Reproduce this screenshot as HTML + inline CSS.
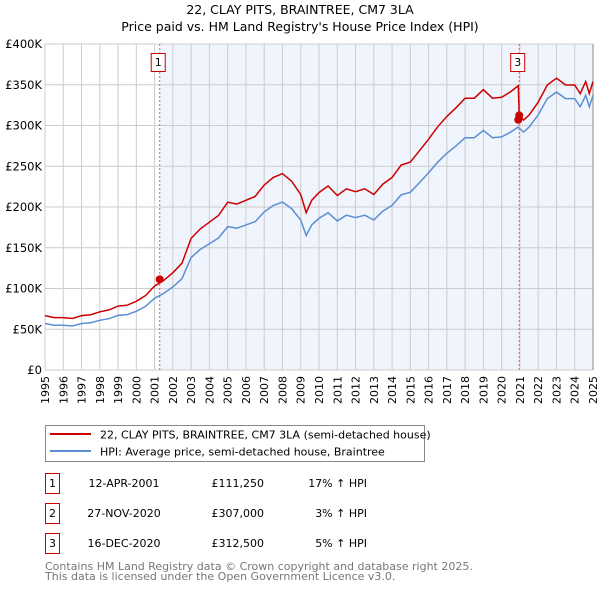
<!DOCTYPE html>
<html><head><meta charset="utf-8"><style>
body{margin:0;background:#fff;}
svg text{font-family:"DejaVu Sans","Liberation Sans",sans-serif;}
</style></head><body>
<svg id="chart" width="600" height="590" viewBox="0 0 600 590" xmlns="http://www.w3.org/2000/svg">
<text x="300" y="14" font-size="12.5" text-anchor="middle">22, CLAY PITS, BRAINTREE, CM7 3LA</text>
<text x="300" y="31" font-size="12.5" text-anchor="middle">Price paid vs. HM Land Registry's House Price Index (HPI)</text>
<g id="plot"></g>
<g>
<rect x="45.5" y="425.5" width="379" height="36" fill="#fff" stroke="#888"/>
<line x1="50" y1="434" x2="91" y2="434" stroke="#cc0000" stroke-width="2"/>
<text x="100" y="438.5" font-size="11">22, CLAY PITS, BRAINTREE, CM7 3LA (semi-detached house)</text>
<line x1="50" y1="451" x2="91" y2="451" stroke="#5b8fd4" stroke-width="2"/>
<text x="100" y="455.5" font-size="11">HPI: Average price, semi-detached house, Braintree</text>
</g>
<g id="table" font-size="11"></g>
<text x="45" y="570" font-size="11" fill="#777">Contains HM Land Registry data © Crown copyright and database right 2025.</text>
<text x="45" y="580" font-size="11" fill="#777">This data is licensed under the Open Government Licence v3.0.</text>
</svg>
<script>
const hpiYears=[1995,1995.5,1996,1996.5,1997,1997.5,1998,1998.5,1999,1999.5,2000,2000.5,2001,2001.5,2002,2002.5,2003,2003.5,2004,2004.5,2005,2005.5,2006,2006.5,2007,2007.5,2008,2008.5,2009,2009.3,2009.6,2010,2010.5,2011,2011.5,2012,2012.5,2013,2013.5,2014,2014.5,2015,2015.5,2016,2016.5,2017,2017.5,2018,2018.5,2019,2019.5,2020,2020.5,2020.9,2021.2,2021.5,2022,2022.5,2023,2023.5,2024,2024.3,2024.6,2024.8,2025];
const hpiValues=[57,55,55,54,57,58,61,63,67,68,72,78,88,94,102,112,138,148,155,162,176,174,178,182,194,202,206,198,184,165,178,186,193,183,190,187,190,184,195,202,215,218,230,242,255,266,275,285,285,294,285,286,292,298,292,298,313,333,341,333,333,323,337,323,337];
const saleLabels=["1","2","3"];
const saleYears=[2001.28,2020.91,2020.96];
const salePrices=[111.25,307,312.5];
const saleDates=["12-APR-2001","27-NOV-2020","16-DEC-2020"];
const salePriceText=["£111,250","£307,000","£312,500"];
const saleDiffText=["17% ↑ HPI","3% ↑ HPI","5% ↑ HPI"];
const ratioBefore=1.17, ratioAfter=1.05;
const yTicks=[0,50,100,150,200,250,300,350,400];
const yTickLabels=["£0","£50K","£100K","£150K","£200K","£250K","£300K","£350K","£400K"];
const xTicks=[1995,1996,1997,1998,1999,2000,2001,2002,2003,2004,2005,2006,2007,2008,2009,2010,2011,2012,2013,2014,2015,2016,2017,2018,2019,2020,2021,2022,2023,2024,2025];

const L=45,R=593,T=44,B=370,x0=1995,x1=2025;
const X=y=>L+(y-x0)/(x1-x0)*(R-L);
const Y=v=>B-v/400*(B-T);
const NS="http://www.w3.org/2000/svg";
const plot=document.getElementById('plot');
function mk(tag,attrs,parent){const e=document.createElementNS(NS,tag);for(const k in attrs)e.setAttribute(k,attrs[k]);(parent||plot).appendChild(e);return e;}

let r=mk('rect',{x:L,y:T,width:R-L,height:B-T,fill:'#fff'});


r=mk('rect',{x:X(saleYears[0]),y:T,width:R-X(saleYears[0]),height:B-T,fill:'#f0f4fc'});


xTicks.forEach(t=>{
  let g=mk('line',{x1:X(t),x2:X(t),y1:T,y2:B,stroke:'#cccccc','stroke-width':1});
  
  
  let tx=mk('text',{x:0,y:0,'font-size':11,'text-anchor':'end',transform:`translate(${X(t)+4},${B+6}) rotate(-90)`});
  tx.textContent=t;
  
  
});
yTicks.forEach((t,i)=>{
  let g=mk('line',{x1:L,x2:R,y1:Y(t),y2:Y(t),stroke:'#cccccc','stroke-width':1});
  
  
  let tx=mk('text',{x:L-3,y:Y(t)+4,'font-size':11.5,'text-anchor':'end'});
  tx.textContent=yTickLabels[i];
  
  
});
r=mk('line',{x1:R,x2:R,y1:T,y2:B,stroke:'#888'});



[0,2].forEach(i=>{
  let l=mk('line',{x1:X(saleYears[i]),x2:X(saleYears[i]),y1:T,y2:B,stroke:'#e06060','stroke-width':1,'stroke-dasharray':'2,2'});
  
  
  let bx=X(saleYears[i]);
  let rb=mk('rect',{x:bx-8.5,y:53.5,width:14,height:18,fill:'#fff',stroke:'#cc0000'});
  
  
  let t=mk('text',{x:bx-1.5,y:66,'font-size':11,'text-anchor':'middle'});
  t.textContent=saleLabels[i];
  
  
});

let hp=hpiYears.map((y,i)=>X(y).toFixed(1)+','+Y(hpiValues[i]).toFixed(1)).join(' ');
let pl=mk('polyline',{points:hp,fill:'none',stroke:'#5b8fd4','stroke-width':1.5});


let pts=[];
hpiYears.forEach((y,i)=>{
  if(y<saleYears[1]) pts.push([y,hpiValues[i]*ratioBefore]);
});
pts.push([saleYears[1],hpiValues[hpiYears.indexOf(2020.9)]*ratioBefore]);
pts.push([saleYears[2],salePrices[2]]);
hpiYears.forEach((y,i)=>{ if(y>saleYears[2]) pts.push([y,hpiValues[i]*ratioAfter]); });
pl=mk('polyline',{points:pts.map(p=>X(p[0]).toFixed(1)+','+Y(p[1]).toFixed(1)).join(' '),fill:'none',stroke:'#cc0000','stroke-width':1.5});


saleYears.forEach((y,i)=>{
  let c=mk('circle',{cx:X(y),cy:Y(salePrices[i]),r:4,fill:'#cc0000'});
  
  
});

const tb=document.getElementById('table');
saleLabels.forEach((lb,i)=>{
  const cy=483+i*30;
  let b=mk('rect',{x:45.5,y:cy-9.5,width:14,height:20,fill:'#fff',stroke:'#cc0000'},tb);
  
  
  const cells=[[52.5,'middle',lb],[124,'middle',saleDates[i]],[264,'end',salePriceText[i]],[367,'end',saleDiffText[i]]];
  cells.forEach(c=>{
    let t=mk('text',{x:c[0],y:cy+4,'text-anchor':c[1]},tb);
    t.textContent=c[2];
    
    
  });
});
</script>
</body></html>
